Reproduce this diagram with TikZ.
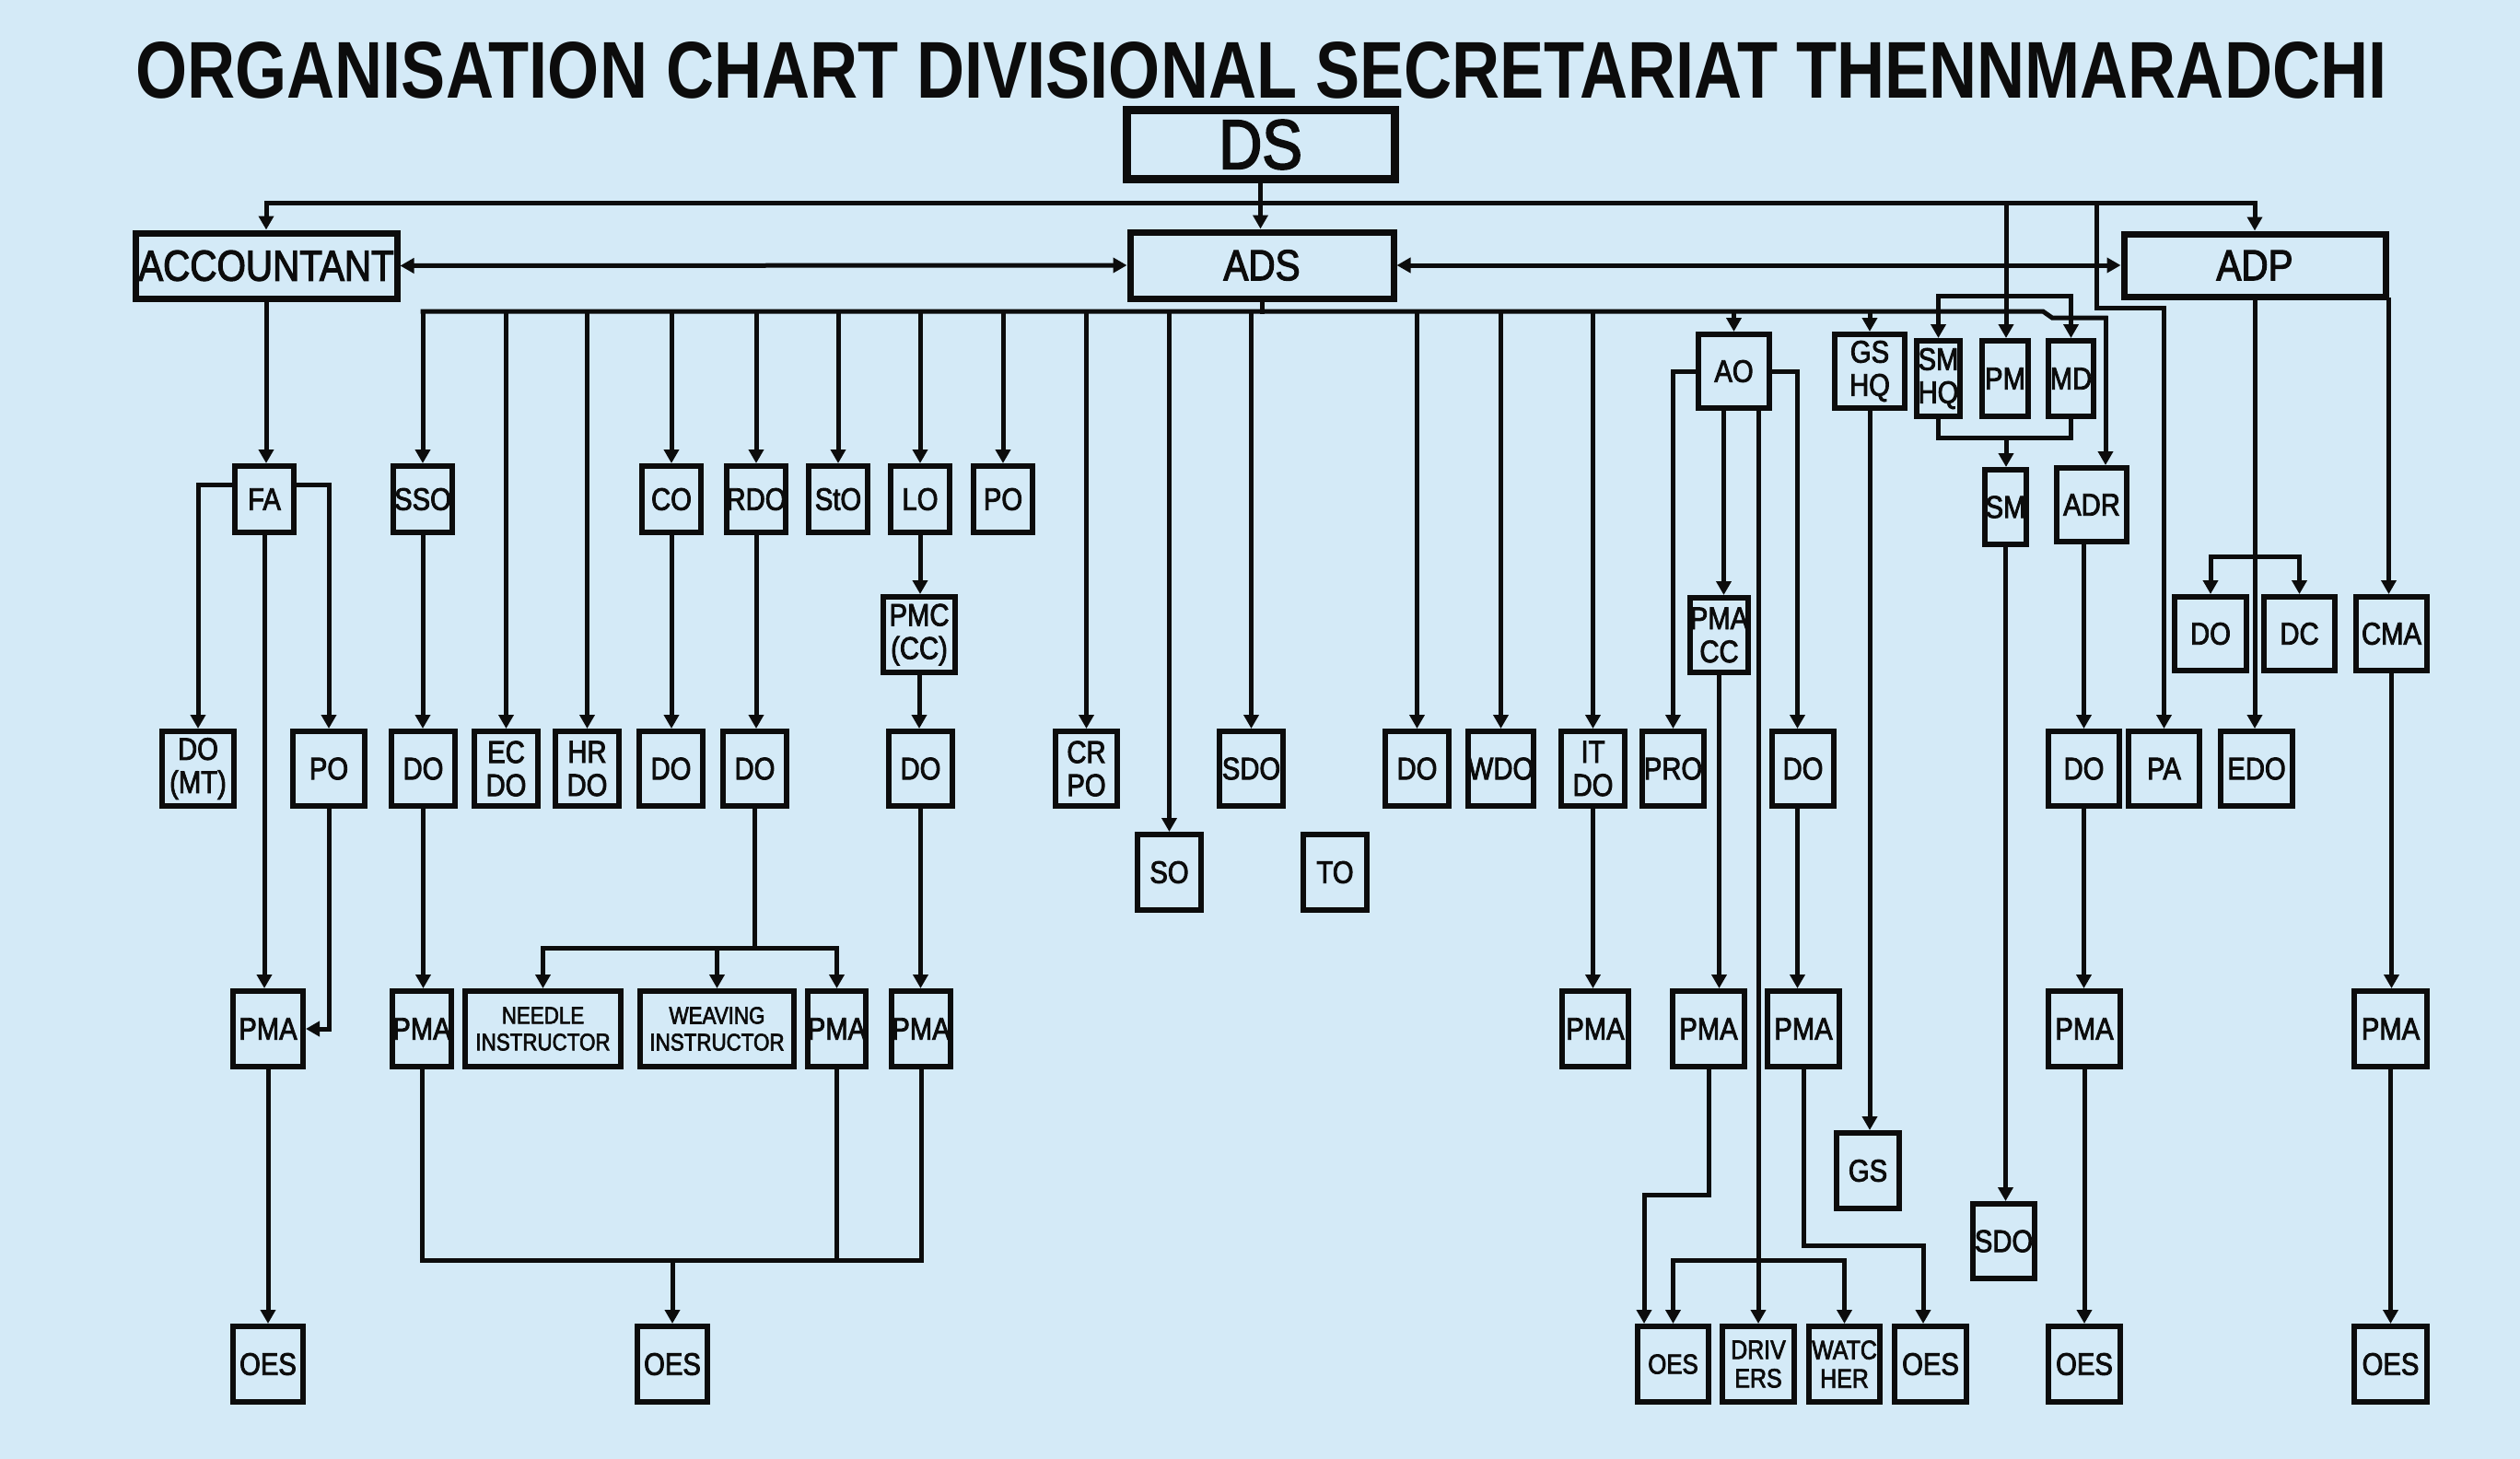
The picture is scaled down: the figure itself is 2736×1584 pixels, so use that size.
\documentclass[tikz,border=0pt]{standalone}
\usepackage{graphicx}
\usepackage{fontspec}
\setmainfont{Liberation Sans}[FakeStretch=0.86,FakeBold=2.5]
\newfontfamily\titlefont{Liberation Sans}
\usetikzlibrary{arrows.meta}
\definecolor{bg}{RGB}{212,234,247}
\definecolor{ink}{RGB}{12,12,12}
\tikzset{
  ob/.style={draw=ink, line width=6pt, fill=bg, inner sep=0pt, align=center, text=ink,
             font=\fontsize{34}{36}\selectfont},
  topbox/.style={line width=7pt, font=\fontsize{47}{50}\selectfont},
  smalltxt/.style={font=\fontsize{26}{29}\selectfont},
  midtxt/.style={font=\fontsize{29}{31}\selectfont},
  ln/.style={draw=ink, line width=5pt, line cap=rect, line join=miter},
  arr/.style={ln, -{Triangle[length=15pt,width=16pt]}},
  darr/.style={ln, {Triangle[length=15pt,width=16pt]}-{Triangle[length=15pt,width=16pt]}},
}
% \orgbox[opts]{name}{x1}{y1}{x2}{y2}{text}
\newcommand\orgbox[7][]{\node[ob,#1,minimum width={(#5)-(#3)-6},minimum height={(#6)-(#4)-6}] (#2) at ({((#3)+(#5))/2},{((#4)+(#6))/2}) {#7};}
\newcommand\vdown[2]{\draw[arr] (#1.south) -- (#1.south |- #2.north);}
\begin{document}
\begin{tikzpicture}[x=1pt,y=-1pt]
\fill[bg] (0,0) rectangle (2736,1584);
\useasboundingbox (0,0) rectangle (2736,1584);

\node[inner sep=0pt, text=ink] (title) at (1369.5,76.5)
  {\resizebox{2443pt}{61pt}{\titlefont\bfseries ORGANISATION CHART DIVISIONAL SECRETARIAT THENNMARADCHI}};

% top level
\orgbox[line width=9pt, font=\fontsize{76}{80}\selectfont]{ds}{1220}{117}{1517}{197}{DS}
\orgbox[topbox, font=\fontsize{47}{50}\selectfont]{acc}{144}{250}{434}{327}{ACCOUNTANT}
\orgbox[topbox]{ads}{1224}{249}{1516}{327}{ADS}
\orgbox[topbox]{adp}{2303}{251}{2593}{325}{ADP}

% row 2
\orgbox{fa}{252}{503}{322}{581}{FA}
\orgbox{sso}{424}{503}{494}{581}{SSO}
\orgbox{co}{694}{503}{764}{581}{CO}
\orgbox{rdo}{786}{503}{856}{581}{RDO}
\orgbox{sto}{875}{503}{945}{581}{StO}
\orgbox{lo}{964}{503}{1034}{581}{LO}
\orgbox{potwo}{1054}{503}{1124}{581}{PO}
\orgbox{ao}{1841}{360}{1924}{446}{AO}
\orgbox{gshq}{1989}{360}{2071}{446}{GS\\HQ}
\orgbox{smhq}{2078}{367}{2131}{455}{SM\\HQ}
\orgbox{pm}{2149}{367}{2205}{455}{PM}
\orgbox{md}{2221}{367}{2276}{455}{MD}
\orgbox{sm}{2152}{507}{2203}{594}{SM}
\orgbox{adr}{2230}{505}{2312}{591}{ADR}

% row 3
\orgbox{pmc}{956}{645}{1040}{733}{PMC\\(CC)}
\orgbox{pmacc}{1832}{646}{1901}{733}{PMA\\CC}
\orgbox{doadp}{2358}{645}{2442}{731}{DO}
\orgbox{dc}{2455}{645}{2538}{731}{DC}
\orgbox{cma}{2555}{645}{2638}{731}{CMA}

% row 4
\orgbox{domt}{173}{791}{257}{878}{DO\\(MT)}
\orgbox{po}{315}{791}{399}{878}{PO}
\orgbox{doone}{422}{791}{497}{878}{DO}
\orgbox{ecdo}{512}{791}{587}{878}{EC\\DO}
\orgbox{hrdo}{600}{791}{675}{878}{HR\\DO}
\orgbox{doco}{691}{791}{766}{878}{DO}
\orgbox{dordo}{782}{791}{857}{878}{DO}
\orgbox{dolo}{962}{791}{1037}{878}{DO}
\orgbox{crpo}{1143}{791}{1216}{878}{CR\\PO}
\orgbox{sdo}{1321}{791}{1396}{878}{SDO}
\orgbox{dob}{1501}{791}{1576}{878}{DO}
\orgbox{wdo}{1592}{791}{1667}{878}{WDO}
\orgbox{itdo}{1692}{791}{1767}{878}{IT\\DO}
\orgbox{pro}{1780}{791}{1853}{878}{PRO}
\orgbox{doao}{1921}{791}{1994}{878}{DO}
\orgbox{doadr}{2221}{791}{2304}{878}{DO}
\orgbox{pa}{2308}{791}{2391}{878}{PA}
\orgbox{edo}{2408}{791}{2492}{878}{EDO}
\orgbox{so}{1232}{903}{1307}{991}{SO}
\orgbox{to}{1412}{903}{1487}{991}{TO}

% row 5
\orgbox{pmaone}{250}{1073}{332}{1161}{PMA}
\orgbox{pmatwo}{424}{1073}{492}{1161}{PMA}
\orgbox[smalltxt]{needle}{502}{1073}{677}{1161}{NEEDLE\\INSTRUCTOR}
\orgbox[smalltxt]{weaving}{692}{1073}{865}{1161}{WEAVING\\INSTRUCTOR}
\orgbox{pmathree}{874}{1073}{943}{1161}{PMA}
\orgbox{pmafour}{966}{1073}{1034}{1161}{PMA}
\orgbox{pmafive}{1693}{1073}{1771}{1161}{PMA}
\orgbox{pmasix}{1813}{1073}{1897}{1161}{PMA}
\orgbox{pmaseven}{1916}{1073}{2000}{1161}{PMA}
\orgbox{pmaeight}{2221}{1073}{2305}{1161}{PMA}
\orgbox{pmanine}{2553}{1073}{2638}{1161}{PMA}
\orgbox{gs}{1991}{1227}{2065}{1315}{GS}
\orgbox{sdob}{2139}{1304}{2212}{1391}{SDO}

% row 6
\orgbox{oesone}{250}{1437}{332}{1525}{OES}
\orgbox{oestwo}{689}{1437}{771}{1525}{OES}
\orgbox[font=\fontsize{30}{32}\selectfont]{oesthree}{1775}{1437}{1858}{1525}{OES}
\orgbox[midtxt]{drivers}{1867}{1437}{1951}{1525}{DRIV\\ERS}
\orgbox[midtxt]{watcher}{1961}{1437}{2044}{1525}{WATC\\HER}
\orgbox{oesfour}{2054}{1437}{2138}{1525}{OES}
\orgbox{oesfive}{2221}{1437}{2305}{1525}{OES}
\orgbox{oessix}{2553}{1437}{2638}{1525}{OES}

% ---- connectors ----
\coordinate (dsbus) at (1368,220);
\draw[arr] (ds.south) -- (ds.south |- ads.north);
\draw[arr] (dsbus) -| (acc.north);
\draw[arr] (dsbus) -| (adp.north);
\draw[darr] (acc.east) -- (ads.west);
\draw[darr] (ads.east) -- (adp.west);

% PM / SM HQ / MD group
\coordinate (pmsrc) at (2178,220);
\draw[arr] (pmsrc) -- (pmsrc |- pm.north);
\coordinate (smbrk) at (2178,321);
\draw[arr] (smbrk) -| (smhq.north);
\draw[arr] (smbrk) -| (md.north);
\coordinate (smbrkb) at (2178,475);
\draw[ln] (smhq.south) |- (smbrkb) -| (md.south);
\draw[arr] (smbrkb) -- (smbrkb |- sm.north);

% PA from DS bus
\coordinate (pasrc) at (2276,220);
\draw[arr] (pasrc) -- ++(0,114) -| (pa.north);

% ADS bus
\coordinate (adsbus) at (1370,338);
\coordinate (kinka) at (2218,338);
\coordinate (kinkb) at (2228,345);
\coordinate (adsend) at (2286,345);
\draw[ln] (ads.south) -- (ads.south |- adsbus);
\draw[ln] (adsbus -| sso.north) -- (kinka) -- (kinkb) -- (adsend);
\draw[arr] (adsend) -- (adsend |- adr.north);
\foreach \n in {sso,ecdo,hrdo,co,rdo,sto,lo,potwo,crpo,so,sdo,dob,wdo,itdo,ao,gshq}
  {\draw[arr] (adsbus -| \n.north) -- (\n.north);}

% Accountant branch
\draw[arr] (acc.south) -- (acc.south |- fa.north);
\draw[arr] ([yshift=16pt]fa.west) -| (domt.north);
\draw[arr] ([yshift=16pt]fa.east) -| (po.north);
\vdown{fa}{pmaone}
\draw[arr] (po.south) |- (pmaone.east);
\vdown{pmaone}{oesone}

% left ADS branches
\vdown{sso}{doone}
\vdown{doone}{pmatwo}
\vdown{co}{doco}
\vdown{rdo}{dordo}
\vdown{lo}{pmc}
\vdown{pmc}{dolo}
\vdown{dolo}{pmafour}
\coordinate (rbrk) at (819,1029);
\draw[ln] (dordo.south) -- (dordo.south |- rbrk);
\draw[arr] (rbrk) -| (needle.north);
\draw[arr] (rbrk) -| (pmathree.north);
\draw[arr] (weaving.north |- rbrk) -- (weaving.north);
\coordinate (lbus) at (730,1368);
\draw[ln] (pmatwo.south) |- (lbus) -| (pmafour.south);
\draw[ln] (pmathree.south) -- (pmathree.south |- lbus);
\draw[arr] (lbus) -- (lbus |- oestwo.north);

% IT DO
\vdown{itdo}{pmafive}

% AO group
\draw[arr] (ao.west) -| (pro.north);
\draw[arr] (ao.east) -| ([xshift=-6pt]doao.north);
\draw[arr] ([xshift=5pt]pmacc.north |- ao.south) -- ([xshift=5pt]pmacc.north);
\draw[arr] (drivers.north |- ao.south) -- (drivers.north);
\vdown{pmacc}{pmasix}
\draw[arr] ([xshift=-6pt]doao.south) -- ([xshift=-6pt]doao.south |- pmaseven.north);
\coordinate (kone) at (1785,1297);
\draw[arr] (pmasix.south) |- (kone) -- (kone |- oesthree.north);
\coordinate (dbrk) at (1909,1368);
\draw[arr] (dbrk) -| (oesthree.north);
\draw[arr] (dbrk) -| (watcher.north);
\coordinate (ktwo) at (2088,1352);
\draw[arr] (pmaseven.south) |- (ktwo) -- (ktwo |- oesfour.north);

% GS, SM
\vdown{gshq}{gs}
\vdown{sm}{sdob}

% ADR
\draw[arr] (doadr.north |- adr.south) -- (doadr.north);
\vdown{doadr}{pmaeight}
\vdown{pmaeight}{oesfive}

% ADP
\vdown{adp}{edo}
\coordinate (abrk) at (2449,604);
\draw[arr] (abrk) -| (doadp.north);
\draw[arr] (abrk) -| (dc.north);
\draw[arr] (adp.south east) -- (adp.south east |- cma.north);
\vdown{cma}{pmanine}
\vdown{pmanine}{oessix}
\end{tikzpicture}
\end{document}
